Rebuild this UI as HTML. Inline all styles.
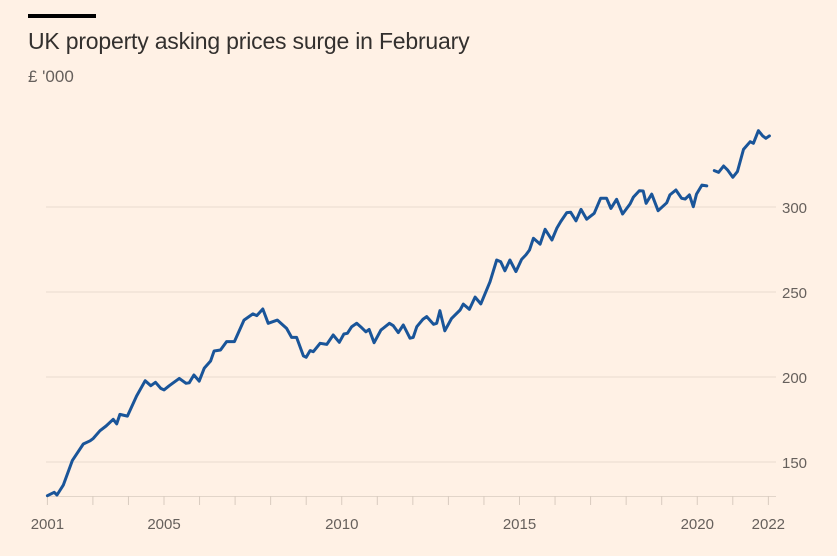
<!DOCTYPE html>
<html><head><meta charset="utf-8"><style>
html,body{margin:0;padding:0;background:#fff1e5;}
body{width:837px;height:556px;overflow:hidden;position:relative;font-family:"Liberation Sans",sans-serif;}
#bar{position:absolute;left:28px;top:14px;width:68px;height:4px;background:#000;}
#title{position:absolute;left:28px;top:28px;font-size:23px;letter-spacing:-0.2px;color:#33302e;}
#sub{position:absolute;left:28px;top:67px;font-size:17px;color:#66605c;}
svg{position:absolute;left:0;top:0;}
</style></head><body>
<div id="bar"></div>
<div id="title">UK property asking prices surge in February</div>
<div id="sub">£ '000</div>
<svg id="chart" width="837" height="556"></svg>
<script>
const dates=[2001.72,2001.91,2001.99,2002.17,2002.42,2002.73,2002.92,2003.01,2003.20,2003.37,2003.57,2003.67,2003.76,2003.97,2004.23,2004.47,2004.63,2004.76,2004.91,2005.00,2005.15,2005.43,2005.62,2005.71,2005.84,2005.99,2006.13,2006.31,2006.41,2006.59,2006.76,2006.98,2007.25,2007.50,2007.61,2007.78,2007.93,2008.19,2008.45,2008.59,2008.73,2008.92,2009.00,2009.11,2009.20,2009.39,2009.58,2009.76,2009.93,2010.06,2010.16,2010.28,2010.42,2010.53,2010.68,2010.77,2010.91,2011.10,2011.34,2011.45,2011.59,2011.73,2011.92,2012.01,2012.11,2012.28,2012.39,2012.58,2012.67,2012.76,2012.90,2013.09,2013.33,2013.42,2013.59,2013.75,2013.91,2014.17,2014.36,2014.47,2014.59,2014.73,2014.90,2015.06,2015.18,2015.28,2015.39,2015.58,2015.72,2015.91,2016.05,2016.16,2016.33,2016.44,2016.59,2016.73,2016.89,2017.10,2017.28,2017.45,2017.57,2017.73,2017.90,2018.11,2018.20,2018.37,2018.48,2018.56,2018.72,2018.90,2019.14,2019.23,2019.40,2019.56,2019.66,2019.78,2019.89,2019.98,2020.13,2020.27,2020.38,2020.48,2020.60,2020.74,2020.85,2021.00,2021.13,2021.30,2021.49,2021.58,2021.72,2021.84,2021.93,2022.03];
const prices=[130.2,132.2,130.6,136.5,150.8,160.6,162.5,163.9,168.4,171.2,175.1,172.4,178,177,188.8,197.8,194.9,196.9,193.3,192.4,194.9,199.2,196.3,196.6,201.2,197.6,205.1,209.4,215.3,215.9,220.8,220.8,233.5,237.1,236.1,240,231.6,233.5,228.6,223.3,223.3,212.4,211.6,215.5,214.9,219.8,219.2,224.7,220.4,225.3,225.7,229.6,231.6,229.6,226.6,228,220.2,227.6,231.6,230.2,226.1,230.6,222.8,223.3,229.6,233.9,235.5,231,231.6,239,227.2,234.5,239.4,242.9,239.8,247,243,256,268.8,267.8,262.5,268.8,262,269.2,271.8,274.7,281.6,278.2,286.9,280.6,287.5,291.4,296.7,296.9,291.9,298.6,292.8,296.3,305.1,305.1,299.2,304.5,295.9,301.8,305.7,309.6,309.4,302.2,307.6,297.8,302.5,307.1,310,305.1,304.7,307.1,300.2,307.6,312.9,312.4,null,321.4,320.4,324.1,321.8,317.5,320.8,333.9,338.4,337.5,344.9,341.8,340.4,341.8];
const yTicks=[150,200,250,300];
const xTickYears=[2003,2004,2005,2006,2007,2008,2009,2010,2011,2012,2013,2014,2015,2016,2017,2018,2019,2020,2021,2022];
const xLabels=[[2001.72,"2001"],[2005,"2005"],[2010,"2010"],[2015,"2015"],[2020,"2020"],[2022,"2022"]];

const X=t=>164+(t-2005)*35.55;
const Y=v=>207+(300-v)*1.7;
const svg=document.getElementById('chart');
const NS='http://www.w3.org/2000/svg';
function mk(tag,attrs){const e=document.createElementNS(NS,tag);for(const k in attrs)e.setAttribute(k,attrs[k]);svg.appendChild(e);return e;}
yTicks.forEach(v=>{
  const l=mk('line',{x1:46,x2:776,y1:Y(v),y2:Y(v),stroke:'#e9dcd0','stroke-width':1});
  
  
  const t=mk('text',{x:782,y:Y(v)+6,'font-size':15,fill:'#66605c','font-family':'Liberation Sans, sans-serif'});
  t.textContent=v;
  
  
});
const ax=mk('line',{x1:46,x2:776,y1:496.5,y2:496.5,stroke:'#e2d5c9','stroke-width':1});


[2001.72].concat(xTickYears).forEach(y=>{
  const l=mk('line',{x1:X(y),x2:X(y),y1:496,y2:505,stroke:'#d8cbbf','stroke-width':1});
  
  
});
xLabels.forEach(([y,s])=>{
  const t=mk('text',{x:X(y),y:529,'font-size':15,fill:'#66605c','text-anchor':'middle','font-family':'Liberation Sans, sans-serif'});
  t.textContent=s;
  
  
});
let d='',pen=false;
dates.forEach((t,i)=>{const v=prices[i];if(v===null){pen=false;return;}d+=(pen?'L':'M')+X(t).toFixed(1)+' '+Y(v).toFixed(1);pen=true;});
const p=mk('path',{d:d,fill:'none',stroke:'#1a5599','stroke-width':3,'stroke-linejoin':'round','stroke-linecap':'round'});


</script>
</body></html>
